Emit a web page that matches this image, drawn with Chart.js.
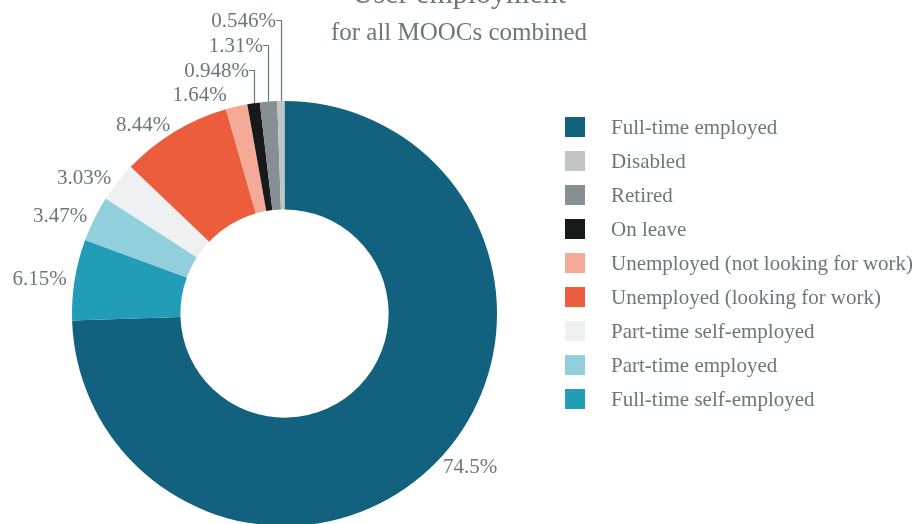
<!DOCTYPE html>
<html>
<head>
<meta charset="utf-8">
<script src="https://cdn.jsdelivr.net/npm/chart.js@4"></script>
<style>
  html, body { margin: 0; padding: 0; background: #fff; overflow: hidden; }
  #wrap { width: 922px; height: 560px; position: relative; }
</style>
</head>
<body>
<div id="wrap"><canvas id="employmentChart" width="922" height="560"></canvas></div>
<script>
// slices in drawing order, clockwise from 12 o'clock
var categories = [
  'Full-time employed',
  'Full-time self-employed',
  'Part-time employed',
  'Part-time self-employed',
  'Unemployed (looking for work)',
  'Unemployed (not looking for work)',
  'On leave',
  'Retired',
  'Disabled'
];
var shares = [74.5, 6.15, 3.47, 3.03, 8.44, 1.64, 0.948, 1.31, 0.546];
var shareLabels = ['74.5%', '6.15%', '3.47%', '3.03%', '8.44%', '1.64%', '0.948%', '1.31%', '0.546%'];
var sliceColors = ['#12617f', '#229db7', '#92cfdc', '#eff0f2', '#ec5d3d', '#f5aa98', '#17191b', '#868f92', '#c0c5c7'];
// legend lists the slices in this order
var legendOrder = [0, 8, 7, 6, 5, 4, 3, 2, 1];
// these small slices get their label on a leader line above the ring
var leaderSlices = [6, 7, 8];

var textColor = '#6b777d';
var serif = '"Liberation Serif", "DejaVu Serif", serif';

var labelsPlugin = {
  id: 'sliceLabels',
  afterDatasetsDraw: function(chart) {
    var ctx = chart.ctx;
    var arcs = chart.getDatasetMeta(0).data;
    ctx.save();
    ctx.font = '21px ' + serif;
    ctx.fillStyle = textColor;
    ctx.strokeStyle = textColor;
    ctx.lineWidth = 1.2;
    ctx.textBaseline = 'middle';
    arcs.forEach(function(arc, i) {
      var p = arc.getProps(['x', 'y', 'startAngle', 'endAngle', 'outerRadius'], true);
      var mid = (p.startAngle + p.endAngle) / 2;
      var k = leaderSlices.indexOf(i);
      if (k >= 0) {
        var lx = Math.round(p.x + Math.cos(mid) * p.outerRadius);
        var ly = p.y + Math.sin(mid) * p.outerRadius;
        var ty = 70 - k * 25;
        ctx.beginPath();
        ctx.moveTo(lx + 0.5, ly);
        ctx.lineTo(lx + 0.5, ty + 0.5);
        ctx.lineTo(lx - 5, ty + 0.5);
        ctx.stroke();
        ctx.textAlign = 'right';
        ctx.fillText(shareLabels[i], lx - 5, ty + 1);
        return;
      }
      var r = p.outerRadius + 8;
      var tx = p.x + Math.cos(mid) * r;
      var tyy = p.y + Math.sin(mid) * r;
      // the label next to the top of the ring sits a little higher
      if (Math.sin(mid) < -0.95) { tyy -= 4; tx -= 8; }
      ctx.textAlign = Math.cos(mid) >= 0 ? 'left' : 'right';
      ctx.fillText(shareLabels[i], tx, tyy + 1);
    });
    ctx.restore();
  }
};

var legendTitlePlugin = {
  id: 'legendTitle',
  afterDraw: function(chart) {
    var ctx = chart.ctx;
    ctx.save();
    ctx.fillStyle = textColor;
    ctx.textAlign = 'center';
    ctx.textBaseline = 'alphabetic';
    ctx.font = '30px ' + serif;
    ctx.fillText('User employment', 459, 3);
    ctx.font = '25px ' + serif;
    ctx.fillText('for all MOOCs combined', 459, 40);

    ctx.textAlign = 'left';
    ctx.textBaseline = 'middle';
    ctx.font = '21px ' + serif;
    legendOrder.forEach(function(idx, row) {
      var cy = 127 + row * 34;
      ctx.fillStyle = sliceColors[idx];
      ctx.fillRect(565, cy - 10, 20, 20);
      ctx.fillStyle = textColor;
      ctx.fillText(categories[idx], 611, cy + 1);
    });
    ctx.restore();
  }
};

new Chart(document.getElementById('employmentChart'), {
  type: 'doughnut',
  data: {
    labels: categories,
    datasets: [{
      data: shares,
      backgroundColor: sliceColors,
      borderWidth: 0
    }]
  },
  options: {
    responsive: false,
    animation: false,
    cutout: '49%',
    layout: { padding: { left: 72, right: 425, top: 101, bottom: 34 } },
    plugins: {
      legend: { display: false },
      tooltip: { enabled: false },
      title: { display: false }
    }
  },
  plugins: [labelsPlugin, legendTitlePlugin]
});
</script>
</body>
</html>
